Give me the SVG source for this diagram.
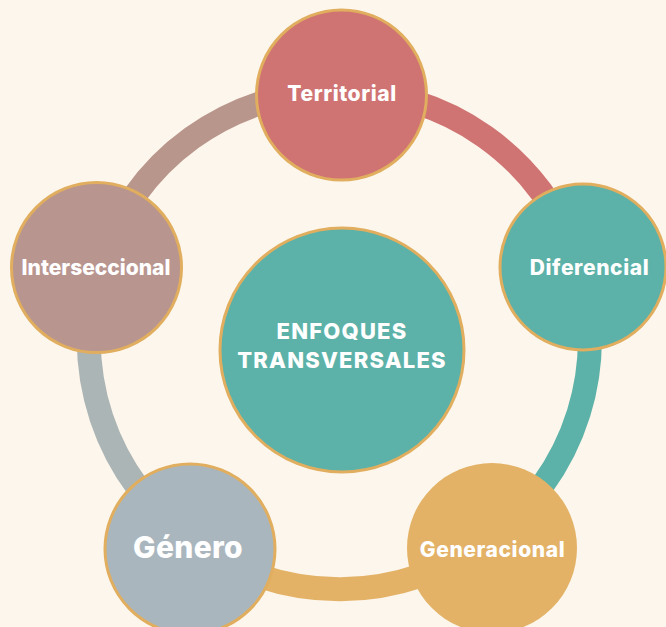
<svg xmlns="http://www.w3.org/2000/svg" width="666" height="627" viewBox="0 0 666 627">
<style>
.node{stroke:#e0ae5e;stroke-width:3}
.lbl{font-family:Inter,"Liberation Sans",sans-serif;font-weight:800;fill:#ffffff;text-anchor:middle;font-size:21px;letter-spacing:0.6px}
.big{font-size:22px;letter-spacing:1.2px}
.arc{fill:none;stroke-width:24}
</style>
<rect width="666" height="627" fill="#fdf6ec"/>
<g id="connectors">
<path class="arc" stroke="#d07373" d="M341 91 A249 249 0 0 1 576 257"/>
<path class="arc" stroke="#5cb2a8" d="M576 257 A249 249 0 0 1 488 540"/>
<path class="arc" stroke="#e3b267" d="M488 540 A249 249 0 0 1 192 541"/>
<path class="arc" stroke="#abb5b5" d="M192 541 A249 249 0 0 1 100 265"/>
<path class="arc" stroke="#b9968c" d="M100 265 A249 249 0 0 1 341 91"/>
</g>
<g id="center">
<circle class="node" cx="342" cy="350" r="122" fill="#5cb2a8"/>
<text class="lbl big" x="342" y="339">ENFOQUES</text>
<text class="lbl big" x="342" y="368">TRANSVERSALES</text>
</g>
<g id="territorial">
<circle class="node" cx="341.5" cy="95" r="85" fill="#d07373"/>
<text class="lbl" x="342" y="101">Territorial</text>
</g>
<g id="diferencial">
<circle class="node" cx="583" cy="267" r="83" fill="#5cb2a8"/>
<text class="lbl" x="589.5" y="275">Diferencial</text>
</g>
<g id="interseccional">
<circle class="node" cx="96.5" cy="267.5" r="85" fill="#b9958f"/>
<text class="lbl" x="96" y="275" style="letter-spacing:0px">Interseccional</text>
</g>
<g id="genero">
<circle class="node" cx="190" cy="549" r="85" fill="#aab6bd"/>
<text class="lbl" x="188" y="558" style="font-size:30px;letter-spacing:0.3px">Género</text>
</g>
<g id="generacional">
<circle cx="492" cy="548" r="85" fill="#e3b267"/>
<text class="lbl" x="492.5" y="557">Generacional</text>
</g>
</svg>
